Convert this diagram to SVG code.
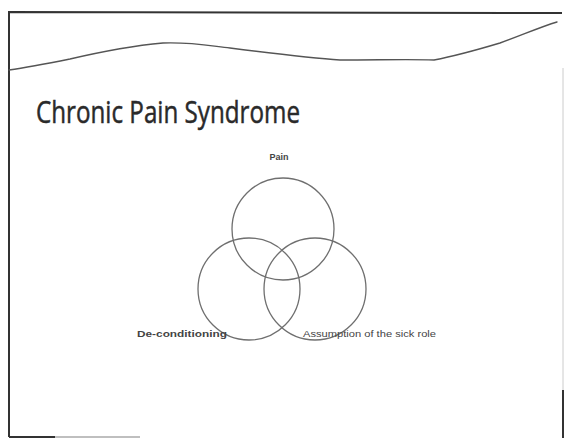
<svg xmlns="http://www.w3.org/2000/svg" width="567" height="438" viewBox="0 0 567 438">
<style>
.frame{fill:none;stroke:#333;stroke-width:2}
.wave{fill:none;stroke:#555;stroke-width:1.4;stroke-linecap:round}
.circle{fill:none;stroke:#6f6f6f;stroke-width:1.3}
.lbl{font-family:"Liberation Sans",Arial,sans-serif;font-size:9px;fill:#444}
.title{font-family:"Open Sans","Liberation Sans",sans-serif;font-size:31px;fill:#2a2a2a;stroke:#2a2a2a;stroke-width:0.5}
</style>
<rect width="567" height="438" fill="#fff"/>
<g id="frame">
<polyline class="frame" points="562,13 9,12 9,437"/>
<line class="frame" x1="9" y1="437" x2="55" y2="437"/>
<line x1="55" y1="437" x2="140" y2="437" stroke="#aaa" stroke-width="1.5"/>
<line class="frame" x1="563" y1="390" x2="563" y2="438"/>
<line x1="563" y1="68" x2="563" y2="390" stroke="#ccc" stroke-width="1"/>
</g>
<path class="wave" d="M9,70 C30,67 45,64 70,59 C100,52 130,46 163,43 C190,42 205,45 230,48 C270,53 310,58 340,60 C380,60 410,59 434,60 C460,55 480,49 500,43 C520,36 540,27 557,22"/>
<text class="title" x="36" y="123" textLength="264" lengthAdjust="spacingAndGlyphs">Chronic Pain Syndrome</text>
<g id="pain">
<circle class="circle" cx="283" cy="229" r="51"/>
<text class="lbl" x="279" y="160" text-anchor="middle" font-weight="bold">Pain</text>
</g>
<g id="deconditioning">
<circle class="circle" cx="249" cy="289" r="51"/>
<text class="lbl" x="137" y="337" font-weight="bold" textLength="90" lengthAdjust="spacingAndGlyphs">De-conditioning</text>
</g>
<g id="sick-role">
<circle class="circle" cx="315" cy="289" r="51"/>
<text class="lbl" x="303" y="337" textLength="133" lengthAdjust="spacingAndGlyphs">Assumption of the sick role</text>
</g>
<g id="connectors"/>
</svg>
